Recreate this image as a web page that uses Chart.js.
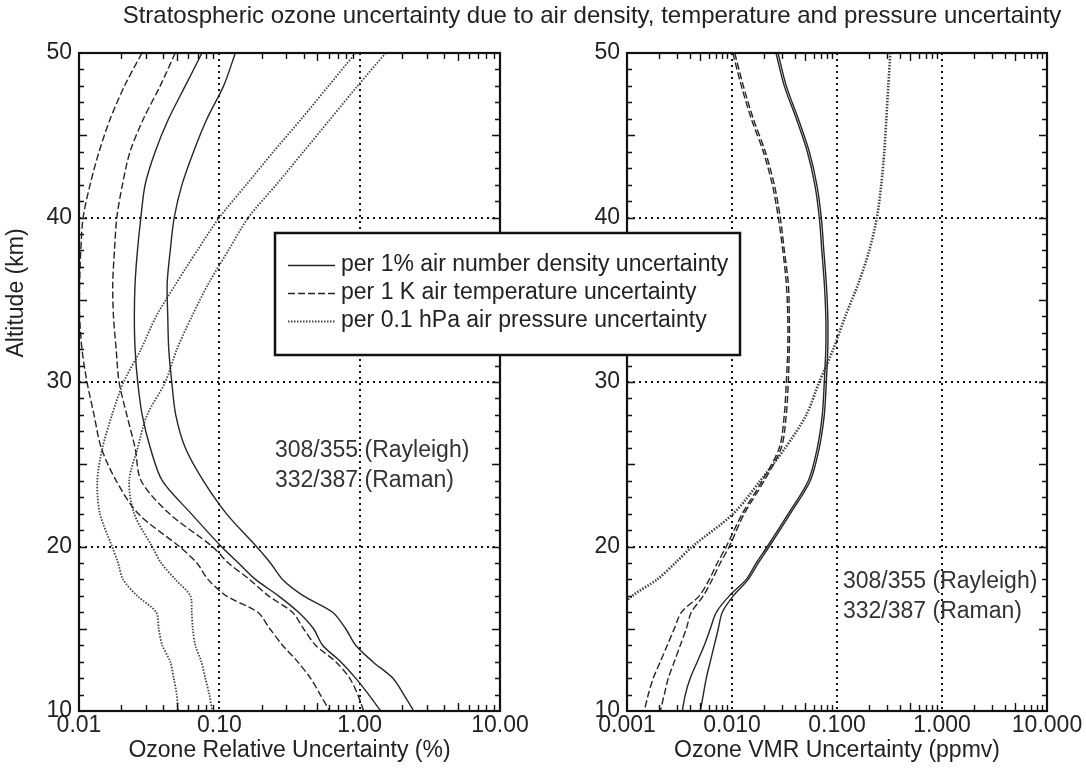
<!DOCTYPE html>
<html>
<head>
<meta charset="utf-8">
<title>Stratospheric ozone uncertainty</title>
<script src="https://cdn.jsdelivr.net/npm/chart.js@4.4.0/dist/chart.umd.min.js"></script>
<style>
  html, body { margin: 0; padding: 0; background: #fff; }
  #lienzo { position: relative; width: 1086px; height: 770px; }
  #lienzo canvas { position: absolute; left: 0; top: 0; }
</style>
</head>
<body>
<div id="lienzo">
  <canvas id="graficoRelativo" width="1086" height="770"></canvas>
  <canvas id="graficoVMR" width="1086" height="770"></canvas>
</div>
<script>
//---------------
// Datos
//---------------
const altitudes = [50, 48, 46, 44, 42, 40, 38, 36, 34, 32, 30, 28, 26, 24, 22, 20, 19, 18, 17, 16, 15, 14, 13, 12, 11, 10];

// Panel izquierdo: incertidumbre relativa (%)
const relDensidad1 = [0.0752, 0.0572, 0.0435, 0.0349, 0.0296, 0.0276, 0.0261, 0.0251, 0.0248, 0.0251, 0.0262, 0.0282, 0.0322, 0.0392, 0.0630, 0.1033, 0.1367, 0.1808, 0.2639, 0.3667, 0.4692, 0.5441, 0.7317, 0.936, 1.160, 1.413];
const relDensidad2 = [0.1301, 0.1073, 0.0817, 0.0655, 0.0542, 0.0477, 0.0447, 0.0425, 0.0429, 0.0436, 0.0458, 0.0489, 0.0572, 0.0768, 0.1122, 0.1838, 0.2313, 0.2818, 0.3981, 0.6415, 0.7943, 0.9363, 1.239, 1.721, 2.062, 2.431];
const relTemp1 = [0.0281, 0.0211, 0.0167, 0.0139, 0.0120, 0.0107, 0.0103, 0.0101, 0.0101, 0.0105, 0.0114, 0.0128, 0.0144, 0.0184, 0.0264, 0.0518, 0.0692, 0.0829, 0.1122, 0.188, 0.229, 0.282, 0.361, 0.446, 0.523, 0.611];
const relTemp2 = [0.0485, 0.0379, 0.0288, 0.0231, 0.0204, 0.0186, 0.0179, 0.0174, 0.0176, 0.0184, 0.0193, 0.0219, 0.0251, 0.0277, 0.0440, 0.0891, 0.1159, 0.1638, 0.2239, 0.332, 0.398, 0.485, 0.674, 0.848, 0.968, 1.068];
const relPresion1 = [0.936, 0.600, 0.385, 0.243, 0.156, 0.100, 0.0697, 0.0493, 0.0355, 0.0277, 0.0208, 0.0172, 0.0147, 0.0135, 0.0141, 0.0172, 0.0190, 0.0206, 0.0260, 0.0355, 0.0370, 0.0392, 0.0447, 0.0473, 0.0497, 0.0509];
const relPresion2 = [1.534, 0.967, 0.620, 0.398, 0.255, 0.161, 0.116, 0.0839, 0.0638, 0.0499, 0.0412, 0.0306, 0.0262, 0.0228, 0.0247, 0.0332, 0.0385, 0.0485, 0.0621, 0.0636, 0.0647, 0.0674, 0.0744, 0.0794, 0.0848, 0.0891];

// Panel derecho: incertidumbre VMR (ppmv)
const vmrDensidad1 = [0.02624, 0.03148, 0.04097, 0.05214, 0.06146, 0.06781, 0.07165, 0.07568, 0.07821, 0.07821, 0.07568, 0.07244, 0.06493, 0.05331, 0.03437, 0.02169, 0.01703, 0.01368, 0.009425, 0.007087, 0.006214, 0.005448, 0.004673, 0.004008, 0.003592, 0.003363];
const vmrDensidad2 = [0.02743, 0.03289, 0.04280, 0.05448, 0.06421, 0.07087, 0.07485, 0.07908, 0.08172, 0.08172, 0.07908, 0.07568, 0.06781, 0.05569, 0.03592, 0.02265, 0.01780, 0.01430, 0.01029, 0.008083, 0.007405, 0.006781, 0.006214, 0.005691, 0.005331, 0.004990];
const vmrTemp1 = [0.01018, 0.01227, 0.01527, 0.01987, 0.02420, 0.02761, 0.03046, 0.03289, 0.03399, 0.03399, 0.03289, 0.03148, 0.02822, 0.01944, 0.01254, 0.008826, 0.007244, 0.006079, 0.004882, 0.003289, 0.002822, 0.002420, 0.002076, 0.001780, 0.001595, 0.001461];
const vmrTemp2 = [0.01063, 0.01282, 0.01595, 0.02076, 0.02528, 0.02884, 0.03148, 0.03437, 0.03513, 0.03513, 0.03437, 0.03289, 0.02948, 0.02030, 0.01310, 0.009425, 0.007736, 0.006493, 0.005331, 0.004097, 0.003671, 0.003218, 0.002822, 0.002474, 0.002265, 0.002076];
const vmrPresion = [0.322, 0.308, 0.295, 0.282, 0.264, 0.240, 0.203, 0.160, 0.120, 0.0922, 0.0678, 0.0510, 0.0322, 0.0186, 0.0103, 0.00419, 0.00288, 0.00194, 0.00112, 0.00077, null, null, null, null, null, null];

// Ejes y textos
const decadasRel = [0.01, 0.1, 1, 10];
const decadasVMR = [0.001, 0.01, 0.1, 1, 10];
const ticksAltitud = [10, 20, 30, 40, 50];
const titulo = "Stratospheric ozone uncertainty due to air density, temperature and pressure uncertainty";
const etiquetasLeyenda = [
  "per 1% air number density uncertainty",
  "per 1 K air temperature uncertainty",
  "per 0.1 hPa air pressure uncertainty"
];
const etiquetasCanal = ["308/355 (Rayleigh)", "332/387 (Raman)"];

//---------------
// Estilos
//---------------
const FUENTE = "'Liberation Sans', Arial, sans-serif";
const TINTA = "#222";
const estilos = {
  densidad: { borderColor: "#262626", borderWidth: 1.4, borderDash: [] },
  temp:     { borderColor: "#262626", borderWidth: 1.4, borderDash: [7, 3] },
  presion:  { borderColor: "#444",    borderWidth: 1.8, borderDash: [1.5, 1.5] }
};

function serie(valores, estilo, extra) {
  const puntos = valores
    .map((v, i) => ({ x: v, y: altitudes[i] }))
    .filter(p => p.x !== null);
  return Object.assign({
    data: puntos,
    showLine: true,
    pointRadius: 0,
    fill: false,
    tension: 0.3
  }, estilos[estilo], extra || {});
}

//---------------
// Marco, rejilla punteada y marcas menores
//---------------
function marco(decadas) {
  return {
    id: "marco",
    beforeDatasetsDraw(chart) {
      const { ctx, chartArea: a, scales: { x, y } } = chart;
      ctx.save();
      ctx.strokeStyle = "#111";
      ctx.lineWidth = 2;
      ctx.setLineDash([2, 4]);
      decadas.slice(1, -1).forEach(v => {
        const px = Math.round(x.getPixelForValue(v));
        ctx.beginPath(); ctx.moveTo(px, a.top); ctx.lineTo(px, a.bottom); ctx.stroke();
      });
      [20, 30, 40].forEach(v => {
        const py = Math.round(y.getPixelForValue(v));
        ctx.beginPath(); ctx.moveTo(a.left, py); ctx.lineTo(a.right, py); ctx.stroke();
      });
      ctx.restore();
    },
    afterDatasetsDraw(chart) {
      const { ctx, chartArea: a, scales: { x, y } } = chart;
      ctx.save();
      ctx.strokeStyle = "#111";
      ctx.setLineDash([]);
      ctx.lineWidth = 1.4;
      // marcas en x (arriba y abajo)
      decadas.slice(0, -1).forEach(d => {
        for (let m = 2; m <= 9; m++) {
          const px = Math.round(x.getPixelForValue(d * m)) + 0.5;
          const largo = m === 5 ? 8 : 6;
          ctx.beginPath();
          ctx.moveTo(px, a.bottom); ctx.lineTo(px, a.bottom - largo);
          ctx.moveTo(px, a.top); ctx.lineTo(px, a.top + largo);
          ctx.stroke();
        }
      });
      // marcas en y (izquierda y derecha)
      for (let alt = 11; alt < 50; alt++) {
        const py = Math.round(y.getPixelForValue(alt)) + 0.5;
        const largo = alt % 5 === 0 ? 8 : 5;
        ctx.beginPath();
        ctx.moveTo(a.left, py); ctx.lineTo(a.left + largo, py);
        ctx.moveTo(a.right, py); ctx.lineTo(a.right - largo, py);
        ctx.stroke();
      }
      ctx.lineWidth = 2.2;
      ctx.strokeRect(a.left, a.top, a.right - a.left, a.bottom - a.top);
      ctx.restore();
    }
  };
}

// Textos sueltos: etiquetas de canal dentro de cada panel
function textos(posCanal, extra) {
  return {
    id: "textos",
    afterDraw(chart) {
      const ctx = chart.ctx;
      ctx.save();
      ctx.fillStyle = "#333";
      ctx.font = "23px " + FUENTE;
      ctx.textBaseline = "middle";
      ctx.textAlign = "left";
      etiquetasCanal.forEach((t, i) => ctx.fillText(t, posCanal.x, posCanal.y + i * 30));
      ctx.restore();
      if (extra) extra(chart);
    }
  };
}

function escalas(decadas, min, max, decimales, tituloX, anchoY) {
  return {
    x: {
      type: "logarithmic",
      min: min,
      max: max,
      position: "bottom",
      afterBuildTicks: s => { s.ticks = decadas.map(v => ({ value: v })); },
      afterFit: s => { s.height = 59; },
      grid: { display: false, drawTicks: false },
      border: { display: false },
      ticks: {
        autoSkip: false,
        maxRotation: 0,
        padding: 1,
        color: TINTA,
        font: { family: FUENTE, size: 23 },
        callback: v => Number(v).toFixed(decimales)
      },
      title: {
        display: true,
        text: tituloX,
        color: TINTA,
        font: { family: FUENTE, size: 23 },
        padding: { top: 0, bottom: 6 }
      }
    },
    y: {
      type: "linear",
      min: 10,
      max: 50,
      afterBuildTicks: s => { s.ticks = ticksAltitud.map(v => ({ value: v })); },
      afterFit: s => { s.width = anchoY; },
      grid: { display: false, drawTicks: false },
      border: { display: false },
      ticks: {
        padding: 7,
        color: TINTA,
        font: { family: FUENTE, size: 23 }
      }
    }
  };
}

const opcionesBase = {
  responsive: false,
  animation: false,
  devicePixelRatio: 1,
  events: [],
  plugins: { legend: { display: false }, tooltip: { enabled: false } }
};

//---------------
// Grafico izquierdo
//---------------
const graficoRelativo = new Chart(document.getElementById("graficoRelativo"), {
  type: "scatter",
  data: {
    datasets: [
      serie(relDensidad1, "densidad"),
      serie(relDensidad2, "densidad"),
      serie(relTemp1, "temp"),
      serie(relTemp2, "temp"),
      serie(relPresion1, "presion"),
      serie(relPresion2, "presion")
    ]
  },
  options: Object.assign({}, opcionesBase, {
    layout: { padding: { left: 0, right: 586, top: 53, bottom: 0 } },
    scales: escalas(decadasRel, 0.01, 10, 2, "Ozone Relative Uncertainty (%)", 79)
  }),
  plugins: [
    marco(decadasRel),
    textos({ x: 275, y: 451 }, chart => {
      const ctx = chart.ctx;
      ctx.save();
      ctx.fillStyle = TINTA;
      ctx.font = "24px " + FUENTE;
      ctx.textAlign = "center";
      ctx.textBaseline = "middle";
      ctx.fillText(titulo, 592, 16);
      // titulo del eje y
      ctx.font = "23px " + FUENTE;
      ctx.translate(17, 293);
      ctx.rotate(-Math.PI / 2);
      ctx.fillText("Altitude (km)", 0, 0);
      ctx.restore();
    })
  ]
});

//---------------
// Grafico derecho (encima, con la leyenda)
//---------------
function dibujarLeyenda(chart) {
  const ctx = chart.ctx;
  const caja = { x: 275, y: 233, w: 465, h: 122 };
  const tipos = ["densidad", "temp", "presion"];
  ctx.save();
  ctx.fillStyle = "#fff";
  ctx.fillRect(caja.x, caja.y, caja.w, caja.h);
  ctx.strokeStyle = "#111";
  ctx.lineWidth = 2.5;
  ctx.strokeRect(caja.x, caja.y, caja.w, caja.h);
  ctx.font = "23px " + FUENTE;
  ctx.textBaseline = "middle";
  ctx.textAlign = "left";
  etiquetasLeyenda.forEach((t, i) => {
    const py = caja.y + 32 + i * 28;
    const e = estilos[tipos[i]];
    ctx.strokeStyle = e.borderColor;
    ctx.lineWidth = e.borderWidth;
    ctx.setLineDash(e.borderDash);
    ctx.beginPath(); ctx.moveTo(288, py + 0.5); ctx.lineTo(335, py + 0.5); ctx.stroke();
    ctx.setLineDash([]);
    ctx.fillStyle = TINTA;
    ctx.fillText(t, 341, py);
  });
  ctx.restore();
}

const graficoVMR = new Chart(document.getElementById("graficoVMR"), {
  type: "scatter",
  data: {
    datasets: [
      serie(vmrDensidad1, "densidad"),
      serie(vmrDensidad2, "densidad"),
      serie(vmrTemp1, "temp"),
      serie(vmrTemp2, "temp"),
      serie(vmrPresion, "presion", { borderWidth: 2.6 })
    ]
  },
  options: Object.assign({}, opcionesBase, {
    layout: { padding: { left: 540, right: 39, top: 53, bottom: 0 } },
    scales: escalas(decadasVMR, 0.001, 10, 3, "Ozone VMR Uncertainty (ppmv)", 87)
  }),
  plugins: [marco(decadasVMR), textos({ x: 843, y: 582 }, dibujarLeyenda)]
});
</script>
</body>
</html>
